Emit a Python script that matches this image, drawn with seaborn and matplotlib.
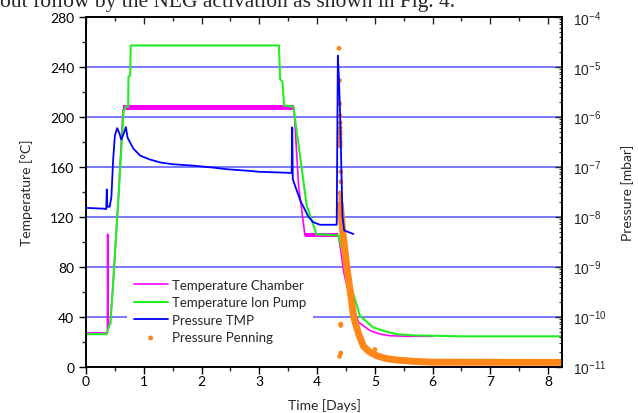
import numpy as np
import pandas as pd
import matplotlib
matplotlib.use("Agg")
import matplotlib.pyplot as plt
import seaborn as sns

# temperature chamber (magenta)
chamber_day = [0, 0.36, 0.37, 0.375, 0.38, 0.40, 0.42, 0.47, 0.56, 0.64, 0.66,
               3.60, 3.68, 3.79, 4.37, 4.42, 4.46, 4.57, 4.72, 4.92, 5.10, 5.26,
               5.50, 5.66, 6.00]
chamber_temp = [27, 27, 27, 106, 30, 32, 34, 67, 134, 205, 207,
                207, 145, 105, 105, 90, 76, 54, 35.5, 28.8, 26, 24.8,
                24.4, 24.3, 24.3]
# noisy plateaus of the chamber reading (band low / high)
plateau1_day = [0.64, 3.60]
plateau1_lo = [205, 205]
plateau1_hi = [209.5, 209.5]
plateau2_day = [3.79, 4.37]
plateau2_lo = [103.5, 103.5]
plateau2_hi = [107, 107]

# temperature ion pump (green)
pump_day = [0, 0.36, 0.40, 0.42, 0.47, 0.56, 0.65, 0.69, 0.73, 0.735, 0.765,
            0.775, 3.32, 3.34, 3.36, 3.40, 3.43, 3.59, 3.82, 3.99, 4.37, 4.45,
            4.57, 4.74, 4.97, 5.20, 5.38, 5.70, 5.96, 6.50, 8.24]
pump_temp = [26, 26, 33, 34, 67, 134, 204, 208, 208, 232, 233,
             257, 257, 257, 230, 228, 209, 208, 129, 106, 105, 90,
             67.5, 40.8, 31.5, 28, 26, 25, 24.8, 24.3, 24.3]

# pressure TMP (blue), mbar
tmp_day = [0, 0.30, 0.35, 0.36, 0.37, 0.38, 0.41, 0.44, 0.47, 0.50, 0.54,
           0.58, 0.61, 0.65, 0.69, 0.72, 0.76, 0.82, 0.94, 1.10, 1.28, 1.50,
           1.86, 2.20, 2.44, 2.80, 3.01, 3.30, 3.56, 3.57, 3.58, 3.71, 3.85,
           3.93, 4.05, 4.34, 4.36, 4.38, 4.40, 4.42, 4.44, 4.47, 4.55, 4.63]
tmp_p = [1.5e-8, 1.45e-8, 1.42e-8, 3.5e-8, 1.6e-8, 1.58e-8, 1.58e-8, 2.5e-8,
         1.4e-7, 4.2e-7, 5.9e-7, 4.6e-7, 3.5e-7, 4.5e-7, 6.2e-7, 3.8e-7,
         3.1e-7, 2.3e-7, 1.66e-7, 1.4e-7, 1.22e-7, 1.12e-7, 1.05e-7, 9.6e-8,
         8.9e-8, 8.3e-8, 7.9e-8, 7.7e-8, 7.5e-8, 6.1e-7, 5.6e-8, 2.1e-8,
         1.0e-8, 7.8e-9, 6.9e-9, 6.9e-9, 1.66e-5, 5.3e-6, 1.0e-6, 1.0e-7,
         1.0e-8, 5.3e-9, 4.9e-9, 4.5e-9]

# pressure Penning (orange dots), mbar
penning_day = [4.38, 4.39, 4.39, 4.40, 4.40, 4.40, 4.40, 4.40, 4.40, 4.40,
               4.40, 4.40, 4.41, 4.41, 4.40, 4.41, 4.41, 4.41, 4.40, 4.41,
               4.41, 4.39, 4.41,
               4.40, 4.44, 4.48, 4.52, 4.57, 4.63, 4.66, 4.72, 4.80, 4.90,
               5.00, 5.03, 5.20, 5.38, 5.67, 6.00, 6.50, 7.00, 7.50, 8.00, 8.24]
penning_p = [2.33e-5, 5.3e-6, 1.83e-6, 1.03e-6, 7.5e-7, 5.96e-7, 5.0e-7,
             4.47e-7, 3.76e-7, 3.16e-7, 2.82e-7, 2.58e-7, 7.9e-8, 5.0e-8,
             3.0e-8, 2.6e-8, 2.24e-8, 1.88e-8, 1.5e-8, 7.1e-11, 6.7e-11,
             1.61e-11, 1.88e-11,
             1.88e-8, 5.6e-9, 2.24e-9, 8.9e-10, 3.5e-10, 1.06e-10, 7.7e-11,
             4.5e-11, 2.6e-11, 2.0e-11, 2.2e-11, 1.66e-11, 1.45e-11, 1.36e-11,
             1.28e-11, 1.23e-11, 1.22e-11, 1.22e-11, 1.22e-11, 1.22e-11, 1.22e-11]
# dense decay band of the Penning reading
band_day = [4.40, 4.44, 4.48, 4.52, 4.57, 4.63, 4.66, 4.72, 4.80, 4.90, 5.03,
            5.20, 5.38, 5.67, 6.00, 8.24]
band_p = [1.88e-8, 5.6e-9, 2.24e-9, 8.9e-10, 3.5e-10, 1.06e-10, 7.7e-11,
          4.5e-11, 2.6e-11, 2.0e-11, 1.66e-11, 1.45e-11, 1.36e-11, 1.28e-11,
          1.23e-11, 1.22e-11]

temp_ticks = [0, 40, 80, 120, 160, 200, 240, 280]
day_ticks = [0, 1, 2, 3, 4, 5, 6, 7, 8]

c_mag = "#ff00ff"
c_green = "#22ee22"
c_blue = "#0000ff"
c_orange = "#ff8619"
c_grid = "#5555ff"

sns.set_style("ticks")
plt.rcParams["font.family"] = ["Lato", "DejaVu Sans"]
plt.rcParams["mathtext.fontset"] = "custom"
plt.rcParams["mathtext.rm"] = "Liberation Sans"
plt.rcParams["mathtext.it"] = "Liberation Sans"
plt.rcParams["mathtext.default"] = "rm"

fig = plt.figure(figsize=(6.38, 4.14), dpi=100)
ax = fig.add_axes([86 / 638, 1 - 367.7 / 414, 476 / 638, 350 / 414])
ax2 = ax.twinx()

ax.set_xlim(0, 8.24)
ax.set_ylim(0, 280)
ax.set_yticks(temp_ticks)
ax.set_yticks([20, 60, 100, 140, 180, 220, 260], minor=True)
ax.set_xticks(day_ticks)
ax.set_xticks([0.5, 1.5, 2.5, 3.5, 4.5, 5.5, 6.5, 7.5], minor=True)
ax.grid(axis="y", which="major", color=c_grid, lw=1.1)
ax.set_axisbelow(True)

ax.fill_between(plateau1_day, plateau1_lo, plateau1_hi, color=c_mag, lw=0)
ax.fill_between(plateau2_day, plateau2_lo, plateau2_hi, color=c_mag, lw=0)
sns.lineplot(x=chamber_day, y=chamber_temp, ax=ax, color=c_mag, lw=1.2,
             sort=False, estimator=None, label="Temperature Chamber", legend=False)
sns.lineplot(x=pump_day, y=pump_temp, ax=ax, color=c_green, lw=1.5,
             sort=False, estimator=None, label="Temperature Ion Pump", legend=False)

ax2.set_yscale("log")
ax2.set_ylim(1e-11, 1e-4)
ax2.plot(band_day, band_p, color=c_orange, lw=5, solid_capstyle="butt")
sns.lineplot(x=tmp_day, y=tmp_p, ax=ax2, color=c_blue, lw=1.3,
             sort=False, estimator=None, label="Pressure TMP", legend=False)
sns.scatterplot(x=penning_day, y=penning_p, ax=ax2, color=c_orange, s=12,
                edgecolor="none", label="Pressure Penning", legend=False)

for s in ["left", "bottom", "right", "top"]:
    ax.spines[s].set_linewidth(1.2)
    ax2.spines[s].set_linewidth(1.2)
    ax.spines[s].set_color("black")
    ax2.spines[s].set_color("black")

ax.tick_params(axis="both", which="major", direction="out", length=5, width=1,
               labelsize=10, colors="black", right=False, top=False)
ax.tick_params(axis="both", which="minor", direction="out", length=3, width=1,
               right=False, top=False)
ax.tick_params(axis="x", pad=1)
ax2.tick_params(axis="y", which="major", direction="in", length=5, width=1,
                labelsize=10, pad=8)
ax2.tick_params(axis="y", which="minor", direction="in", length=2.5, width=0.8)
for lab in ax2.get_yticklabels():
    lab.set_fontfamily("Liberation Sans")

top = ax.secondary_xaxis("top")
top.set_xticks(day_ticks)
top.set_xticks([0.5, 1.5, 2.5, 3.5, 4.5, 5.5, 6.5, 7.5], minor=True)
top.tick_params(which="major", direction="in", length=5, width=1, labeltop=False)
top.tick_params(which="minor", direction="in", length=3, width=1)
top.spines["top"].set_linewidth(1.2)

ax.set_xlabel("Time [Days]", fontsize=10, labelpad=8)
ax.set_ylabel("Temperature [°C]", fontsize=10, labelpad=12)
ax2.set_ylabel("Pressure [mbar]", fontsize=10, labelpad=10)

h1, l1 = ax.get_legend_handles_labels()
h2, l2 = ax2.get_legend_handles_labels()
leg = ax2.legend(h1 + h2, l1 + l2, loc="upper left",
                 bbox_to_anchor=(0.086, 0.27), fontsize=9.5, frameon=True,
                 handlelength=2.6, handletextpad=0.35, labelspacing=0.42,
                 borderpad=0.5, borderaxespad=0, fancybox=False)
leg.get_frame().set_facecolor("white")
leg.get_frame().set_edgecolor("none")
leg.get_frame().set_alpha(1)

fig.text(0.0, 0.983, "out follow by the NEG activation as shown in Fig. 4.",
         fontsize=15.5, family="Liberation Serif", va="baseline", ha="left")

fig.savefig("out.png", dpi=100)
